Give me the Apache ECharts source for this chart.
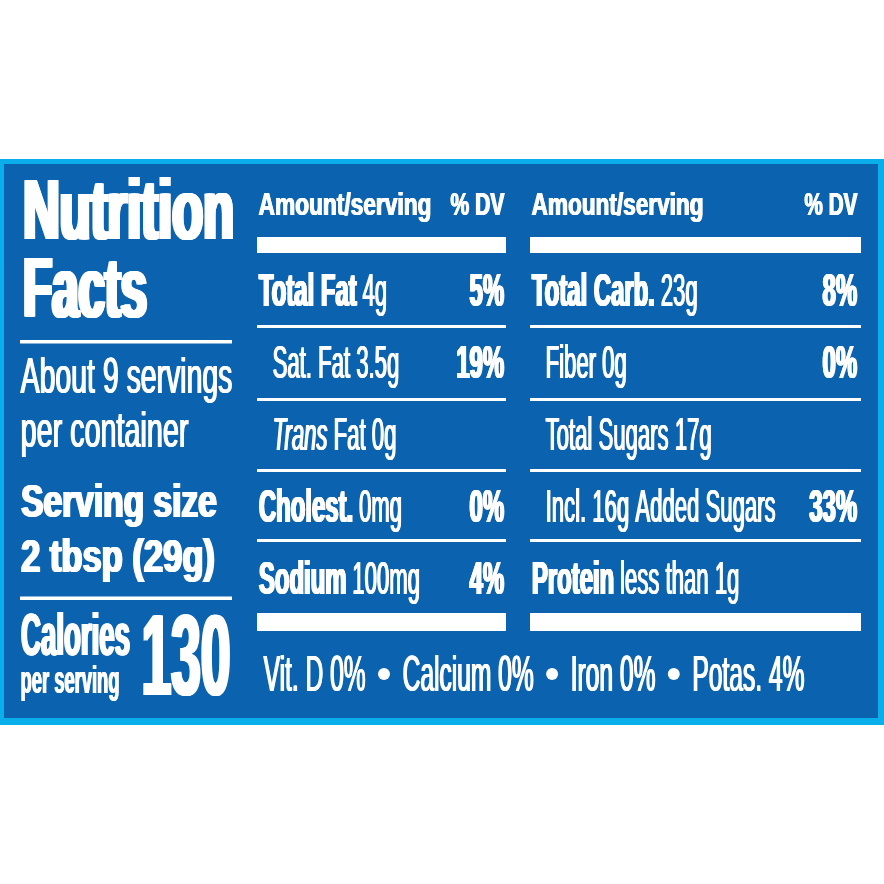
<!DOCTYPE html>
<html>
<head>
<meta charset="utf-8">
<script src="https://cdn.jsdelivr.net/npm/echarts@6/dist/echarts.min.js"></script>
<style>
html,body{margin:0;padding:0;background:#ffffff;}
#chart{width:884px;height:884px;}
</style>
</head>
<body>
<div id="chart"></div>
<script>
// ---------------- data ----------------
const titleWords = ['Nutrition', 'Facts'];
const servingsPerContainer = 9;
const servingSize = '2 tbsp (29g)';
const caloriesPerServing = 130;
const headerLabels = ['Amount/serving', '% DV'];

const leftNames   = ['Total Fat', 'Sat. Fat', 'Trans Fat', 'Cholest.', 'Sodium'];
const leftAmounts = ['4g', '3.5g', '0g', '0mg', '100mg'];
const leftDV      = ['5%', '19%', '', '0%', '4%'];
const leftLevels  = [0, 1, 1, 0, 0];

const rightNames   = ['Total Carb.', 'Fiber', 'Total Sugars', 'Incl. 16g Added Sugars', 'Protein'];
const rightAmounts = ['23g', '0g', '17g', '', 'less than 1g'];
const rightDV      = ['8%', '0%', '', '33%', ''];
const rightLevels  = [0, 1, 1, 2, 0];

const vitamins   = ['Vit. D', 'Calcium', 'Iron', 'Potas.'];
const vitaminDV  = ['0%', '0%', '0%', '4%'];

// ---------------- style / layout ----------------
const DARK = '#0b62ae';
const LIGHT = '#0aaeea';
const WHITE = '#ffffff';
const FAM = "'Liberation Sans Narrow', 'Liberation Sans', Arial, sans-serif";
const EXB = 0.05;   // horizontal emboldening for bold text (fraction of cap height)
const EXR = 0.035;  // for regular text

const ctx = document.createElement('canvas').getContext('2d');
function fontStr(w, s, size) { return s + ' ' + w + ' ' + size.toFixed(2) + 'px ' + FAM; }
const fiCache = {};
function fontInfo(w, s) {
  const key = w + s;
  if (fiCache[key]) return fiCache[key];
  ctx.font = fontStr(w, s, 100);
  ctx.textBaseline = 'alphabetic';
  let m = ctx.measureText('H');
  let cap = (m.actualBoundingBoxAscent || 71.6) / 100;
  ctx.textBaseline = 'middle';
  m = ctx.measureText('H');
  let mid = m.actualBoundingBoxDescent;
  mid = (mid === undefined || isNaN(mid)) ? 0.35 : mid / 100;
  ctx.textBaseline = 'alphabetic';
  fiCache[key] = { cap: cap, mid: mid };
  return fiCache[key];
}
function measure(text, w, s, cap) {
  const f = fontInfo(w, s);
  ctx.font = fontStr(w, s, cap / f.cap);
  return ctx.measureText(text).width;
}

const els = [];
function makeText(text, x, baseline, cap, scaleX, w, s, align, exRatio) {
  const f = fontInfo(w, s);
  const size = cap / f.cap;
  const extra = cap * exRatio;
  const offs = [];
  for (let d = 0; d < extra; d += 0.8) offs.push(d);
  offs.push(extra);
  offs.forEach(function (d) {
    els.push({
      type: 'text', silent: true,
      x: align === 'right' ? x - d : x + d,
      y: baseline - f.mid * size,
      scaleX: scaleX, scaleY: 1,
      style: {
        text: text, x: 0, y: 0, font: fontStr(w, s, size), fill: WHITE,
        align: align, textAlign: align, verticalAlign: 'middle', textVerticalAlign: 'middle'
      }
    });
  });
}
function fit(text, x, baseline, cap, width, w, s, align, exRatio) {
  const m = measure(text, w, s, cap);
  const extra = cap * exRatio;
  makeText(text, x, baseline, cap, (width - extra) / m, w, s, align, exRatio);
}
function rect(x, y, wd, h, fill) {
  els.push({ type: 'rect', silent: true, shape: { x: x, y: y, width: wd, height: h }, style: { fill: fill } });
}

// frame
rect(0, 159, 884, 566, LIGHT);
rect(4, 164, 874, 554, DARK);

// ---- left panel ----
fit(titleWords[0], 21, 239, 60, 215, 'bold', 'normal', 'left', 0.07);
fit(titleWords[1], 21, 317, 60, 128, 'bold', 'normal', 'left', 0.07);
rect(20, 340, 212, 3.5, WHITE);
fit('About ' + servingsPerContainer + ' servings', 20, 393, 35, 213, 'normal', 'normal', 'left', EXR);
fit('per container', 20, 447, 35, 169, 'normal', 'normal', 'left', EXR);
fit('Serving size', 20, 517, 33, 198, 'bold', 'normal', 'left', 0.07);
fit(servingSize, 20, 572, 32, 196, 'bold', 'normal', 'left', 0.07);
rect(20, 596.5, 212, 3.5, WHITE);
fit('Calories', 20, 655, 42, 111, 'bold', 'normal', 'left', EXB);
fit('per serving', 20, 693, 27, 100, 'bold', 'normal', 'left', 0.04);
fit(String(caloriesPerServing), 140, 695, 80, 92, 'bold', 'normal', 'left', 0.04);

// ---- table columns ----
const cols = [
  { x0: 257, x1: 506, right: 505, hw: 174, dvw: 55, names: leftNames, amounts: leftAmounts, dv: leftDV, levels: leftLevels },
  { x0: 530, x1: 861, right: 858, hw: 173, dvw: 54, names: rightNames, amounts: rightAmounts, dv: rightDV, levels: rightLevels }
];
const ROW_BASE = [306, 378, 450, 522, 594];
const LINE_Y = [325, 398, 469, 539];
const ROW_CAP = 32.5;
const INDENT = [0, 14, 14, 34];
const LINE_INDENT = [0, 0, 0, 35];

const exB = ROW_CAP * EXB, exR = ROW_CAP * EXR;
const kB = (100 + 124 - 2 * exB) / (measure(leftNames[0], 'bold', 'normal', ROW_CAP) + measure(rightNames[0], 'bold', 'normal', ROW_CAP));
const kR = (135 + 224 - 2 * exR) / (measure(leftNames[1] + ' ' + leftAmounts[1], 'normal', 'normal', ROW_CAP) + measure(rightNames[3], 'normal', 'normal', ROW_CAP));

cols.forEach(function (c) {
  // header
  fit(headerLabels[0], c.x0 + 1, 215, 22, c.hw, 'bold', 'normal', 'left', EXB);
  fit(headerLabels[1], c.right, 215, 22, c.dvw, 'bold', 'normal', 'right', EXB);
  rect(c.x0, 237, c.x1 - c.x0, 16, WHITE);
  rect(c.x0, 613, c.x1 - c.x0, 18, WHITE);
  for (let i = 0; i < c.names.length; i++) {
    const lvl = c.levels[i];
    const base = ROW_BASE[i];
    let segs;
    const nm = c.names[i];
    if (nm.indexOf('Trans ') === 0) {
      segs = [{ t: 'Trans', w: 'normal', s: 'italic' }, { t: nm.slice(5), w: 'normal', s: 'normal' }];
    } else {
      segs = [{ t: nm, w: lvl === 0 ? 'bold' : 'normal', s: 'normal' }];
    }
    if (c.amounts[i]) segs.push({ t: ' ' + c.amounts[i], w: 'normal', s: 'normal' });
    let x = c.x0 + 1 + INDENT[lvl];
    segs.forEach(function (sg) {
      const k = sg.w === 'bold' ? kB : kR;
      makeText(sg.t, x, base, ROW_CAP, k, sg.w, sg.s, 'left', sg.w === 'bold' ? EXB : EXR);
      x += measure(sg.t, sg.w, sg.s, ROW_CAP) * k;
    });
    if (c.dv[i]) makeText(c.dv[i], c.right, base, ROW_CAP, kB, 'bold', 'normal', 'right', EXB);
    if (i < c.names.length - 1) {
      const li = LINE_INDENT[c.levels[i + 1]];
      rect(c.x0 + li, LINE_Y[i], c.x1 - c.x0 - li, 3, WHITE);
    }
  }
});

// ---- vitamins line ----
(function () {
  const cap = 34, baseline = 691, x0 = 263, total = 542;
  const pieces = vitamins.map(function (v, i) { return v + ' ' + vitaminDV[i]; });
  const ex = cap * EXR;
  const gapL = 19, gapR = 18;
  const ms = pieces.map(function (p) { return measure(p, 'normal', 'normal', cap); });
  const sum = ms.reduce(function (a, b) { return a + b; }, 0);
  const k = (total - (pieces.length - 1) * (gapL + gapR) - ex) / sum;
  let x = x0;
  pieces.forEach(function (p, i) {
    makeText(p, x, baseline, cap, k, 'normal', 'normal', 'left', EXR);
    x += ms[i] * k;
    if (i < pieces.length - 1) {
      const cx = x + gapL;
      els.push({ type: 'circle', silent: true, shape: { cx: cx, cy: baseline - cap / 2, r: 6 }, style: { fill: WHITE } });
      x = cx + gapR;
    }
  });
})();

const chart = echarts.init(document.getElementById('chart'), null, { renderer: 'canvas' });
chart.setOption({
  animation: false,
  backgroundColor: '#ffffff',
  graphic: { elements: els }
});
</script>
</body>
</html>
